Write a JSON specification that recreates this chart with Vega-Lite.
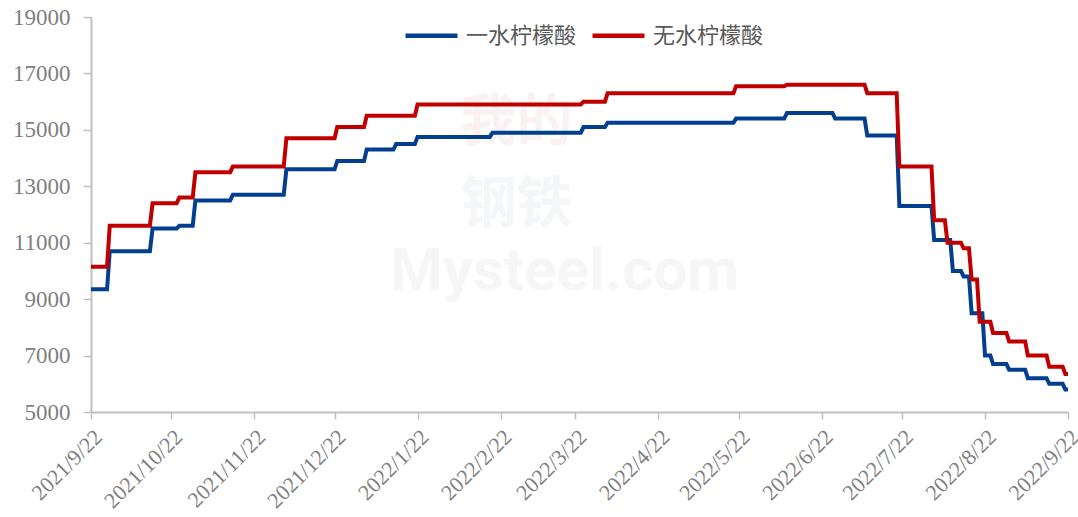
{
  "$schema": "https://vega.github.io/schema/vega-lite/v6.json",
  "width": 977,
  "height": 395,
  "autosize": {"type": "none"},
  "padding": {"left": 91, "top": 17, "right": 10, "bottom": 105},
  "background": "white",
  "config": {"view": {"stroke": null}},
  "datasets": {
    "prices": [
      {"s": "一水柠檬酸", "d": "2021-09-22", "v": 9350},
      {"s": "一水柠檬酸", "d": "2021-09-28", "v": 9350},
      {"s": "一水柠檬酸", "d": "2021-09-29", "v": 10700},
      {"s": "一水柠檬酸", "d": "2021-10-14", "v": 10700},
      {"s": "一水柠檬酸", "d": "2021-10-15", "v": 11500},
      {"s": "一水柠檬酸", "d": "2021-10-24", "v": 11500},
      {"s": "一水柠檬酸", "d": "2021-10-25", "v": 11600},
      {"s": "一水柠檬酸", "d": "2021-10-30", "v": 11600},
      {"s": "一水柠檬酸", "d": "2021-10-31", "v": 12500},
      {"s": "一水柠檬酸", "d": "2021-11-13", "v": 12500},
      {"s": "一水柠檬酸", "d": "2021-11-14", "v": 12700},
      {"s": "一水柠檬酸", "d": "2021-12-03", "v": 12700},
      {"s": "一水柠檬酸", "d": "2021-12-04", "v": 13600},
      {"s": "一水柠檬酸", "d": "2021-12-22", "v": 13600},
      {"s": "一水柠檬酸", "d": "2021-12-23", "v": 13900},
      {"s": "一水柠檬酸", "d": "2022-01-02", "v": 13900},
      {"s": "一水柠檬酸", "d": "2022-01-03", "v": 14300},
      {"s": "一水柠檬酸", "d": "2022-01-13", "v": 14300},
      {"s": "一水柠檬酸", "d": "2022-01-14", "v": 14500},
      {"s": "一水柠檬酸", "d": "2022-01-21", "v": 14500},
      {"s": "一水柠檬酸", "d": "2022-01-22", "v": 14750},
      {"s": "一水柠檬酸", "d": "2022-02-18", "v": 14750},
      {"s": "一水柠檬酸", "d": "2022-02-19", "v": 14900},
      {"s": "一水柠檬酸", "d": "2022-03-24", "v": 14900},
      {"s": "一水柠檬酸", "d": "2022-03-25", "v": 15100},
      {"s": "一水柠檬酸", "d": "2022-04-02", "v": 15100},
      {"s": "一水柠檬酸", "d": "2022-04-03", "v": 15250},
      {"s": "一水柠檬酸", "d": "2022-05-20", "v": 15250},
      {"s": "一水柠檬酸", "d": "2022-05-21", "v": 15400},
      {"s": "一水柠檬酸", "d": "2022-06-08", "v": 15400},
      {"s": "一水柠檬酸", "d": "2022-06-09", "v": 15600},
      {"s": "一水柠檬酸", "d": "2022-06-26", "v": 15600},
      {"s": "一水柠檬酸", "d": "2022-06-27", "v": 15400},
      {"s": "一水柠檬酸", "d": "2022-07-08", "v": 15400},
      {"s": "一水柠檬酸", "d": "2022-07-09", "v": 14800},
      {"s": "一水柠檬酸", "d": "2022-07-20", "v": 14800},
      {"s": "一水柠檬酸", "d": "2022-07-21", "v": 12300},
      {"s": "一水柠檬酸", "d": "2022-08-02", "v": 12300},
      {"s": "一水柠檬酸", "d": "2022-08-03", "v": 11100},
      {"s": "一水柠檬酸", "d": "2022-08-09", "v": 11100},
      {"s": "一水柠檬酸", "d": "2022-08-10", "v": 10000},
      {"s": "一水柠檬酸", "d": "2022-08-13", "v": 10000},
      {"s": "一水柠檬酸", "d": "2022-08-14", "v": 9800},
      {"s": "一水柠檬酸", "d": "2022-08-16", "v": 9800},
      {"s": "一水柠檬酸", "d": "2022-08-17", "v": 8500},
      {"s": "一水柠檬酸", "d": "2022-08-21", "v": 8500},
      {"s": "一水柠檬酸", "d": "2022-08-22", "v": 7000},
      {"s": "一水柠檬酸", "d": "2022-08-24", "v": 7000},
      {"s": "一水柠檬酸", "d": "2022-08-25", "v": 6700},
      {"s": "一水柠檬酸", "d": "2022-08-30", "v": 6700},
      {"s": "一水柠檬酸", "d": "2022-08-31", "v": 6500},
      {"s": "一水柠檬酸", "d": "2022-09-06", "v": 6500},
      {"s": "一水柠檬酸", "d": "2022-09-07", "v": 6200},
      {"s": "一水柠檬酸", "d": "2022-09-14", "v": 6200},
      {"s": "一水柠檬酸", "d": "2022-09-15", "v": 6000},
      {"s": "一水柠檬酸", "d": "2022-09-20", "v": 6000},
      {"s": "一水柠檬酸", "d": "2022-09-21", "v": 5800},
      {"s": "一水柠檬酸", "d": "2022-09-22", "v": 5800},
      {"s": "无水柠檬酸", "d": "2021-09-22", "v": 10150},
      {"s": "无水柠檬酸", "d": "2021-09-28", "v": 10150},
      {"s": "无水柠檬酸", "d": "2021-09-29", "v": 11600},
      {"s": "无水柠檬酸", "d": "2021-10-14", "v": 11600},
      {"s": "无水柠檬酸", "d": "2021-10-15", "v": 12400},
      {"s": "无水柠檬酸", "d": "2021-10-24", "v": 12400},
      {"s": "无水柠檬酸", "d": "2021-10-25", "v": 12600},
      {"s": "无水柠檬酸", "d": "2021-10-30", "v": 12600},
      {"s": "无水柠檬酸", "d": "2021-10-31", "v": 13500},
      {"s": "无水柠檬酸", "d": "2021-11-13", "v": 13500},
      {"s": "无水柠檬酸", "d": "2021-11-14", "v": 13700},
      {"s": "无水柠檬酸", "d": "2021-12-03", "v": 13700},
      {"s": "无水柠檬酸", "d": "2021-12-04", "v": 14700},
      {"s": "无水柠檬酸", "d": "2021-12-22", "v": 14700},
      {"s": "无水柠檬酸", "d": "2021-12-23", "v": 15100},
      {"s": "无水柠檬酸", "d": "2022-01-02", "v": 15100},
      {"s": "无水柠檬酸", "d": "2022-01-03", "v": 15500},
      {"s": "无水柠檬酸", "d": "2022-01-21", "v": 15500},
      {"s": "无水柠檬酸", "d": "2022-01-22", "v": 15900},
      {"s": "无水柠檬酸", "d": "2022-03-24", "v": 15900},
      {"s": "无水柠檬酸", "d": "2022-03-25", "v": 16000},
      {"s": "无水柠檬酸", "d": "2022-04-02", "v": 16000},
      {"s": "无水柠檬酸", "d": "2022-04-03", "v": 16300},
      {"s": "无水柠檬酸", "d": "2022-05-20", "v": 16300},
      {"s": "无水柠檬酸", "d": "2022-05-21", "v": 16550},
      {"s": "无水柠檬酸", "d": "2022-06-08", "v": 16550},
      {"s": "无水柠檬酸", "d": "2022-06-09", "v": 16600},
      {"s": "无水柠檬酸", "d": "2022-07-08", "v": 16600},
      {"s": "无水柠檬酸", "d": "2022-07-09", "v": 16300},
      {"s": "无水柠檬酸", "d": "2022-07-20", "v": 16300},
      {"s": "无水柠檬酸", "d": "2022-07-21", "v": 13700},
      {"s": "无水柠檬酸", "d": "2022-08-02", "v": 13700},
      {"s": "无水柠檬酸", "d": "2022-08-03", "v": 11800},
      {"s": "无水柠檬酸", "d": "2022-08-07", "v": 11800},
      {"s": "无水柠檬酸", "d": "2022-08-08", "v": 11000},
      {"s": "无水柠檬酸", "d": "2022-08-13", "v": 11000},
      {"s": "无水柠檬酸", "d": "2022-08-14", "v": 10800},
      {"s": "无水柠檬酸", "d": "2022-08-16", "v": 10800},
      {"s": "无水柠檬酸", "d": "2022-08-17", "v": 9700},
      {"s": "无水柠檬酸", "d": "2022-08-19", "v": 9700},
      {"s": "无水柠檬酸", "d": "2022-08-20", "v": 8200},
      {"s": "无水柠檬酸", "d": "2022-08-24", "v": 8200},
      {"s": "无水柠檬酸", "d": "2022-08-25", "v": 7800},
      {"s": "无水柠檬酸", "d": "2022-08-30", "v": 7800},
      {"s": "无水柠檬酸", "d": "2022-08-31", "v": 7500},
      {"s": "无水柠檬酸", "d": "2022-09-06", "v": 7500},
      {"s": "无水柠檬酸", "d": "2022-09-07", "v": 7000},
      {"s": "无水柠檬酸", "d": "2022-09-14", "v": 7000},
      {"s": "无水柠檬酸", "d": "2022-09-15", "v": 6600},
      {"s": "无水柠檬酸", "d": "2022-09-20", "v": 6600},
      {"s": "无水柠檬酸", "d": "2022-09-21", "v": 6350},
      {"s": "无水柠檬酸", "d": "2022-09-22", "v": 6350}
    ],
    "wm1": [{"t": "Mysteel.com", "d": "2022-03-18", "v": 9950}],
    "wm2": [{"t": "我的", "d": "2022-02-28", "v": 15250}],
    "wm3": [{"t": "钢铁", "d": "2022-02-28", "v": 12350}]
  },
  "layer": [
    {
      "data": {"name": "wm1"},
      "mark": {"type": "text", "font": "Roboto", "fontWeight": "bold", "fontSize": 60, "color": "#f6f6f6", "align": "center", "baseline": "middle"},
      "encoding": {
        "x": {"field": "d", "type": "temporal"},
        "y": {"field": "v", "type": "quantitative"},
        "text": {"field": "t"}
      }
    },
    {
      "data": {"name": "wm2"},
      "mark": {"type": "text", "font": "Noto Sans CJK SC", "fontWeight": "bold", "fontSize": 56, "color": "#faf1f1", "align": "center", "baseline": "middle"},
      "encoding": {
        "x": {"field": "d", "type": "temporal"},
        "y": {"field": "v", "type": "quantitative"},
        "text": {"field": "t"}
      }
    },
    {
      "data": {"name": "wm3"},
      "mark": {"type": "text", "font": "Noto Sans CJK SC", "fontWeight": "bold", "fontSize": 56, "color": "#f5f6f8", "align": "center", "baseline": "middle"},
      "encoding": {
        "x": {"field": "d", "type": "temporal"},
        "y": {"field": "v", "type": "quantitative"},
        "text": {"field": "t"}
      }
    },
    {
      "data": {"name": "prices"},
      "mark": {"type": "line", "strokeWidth": 4, "interpolate": "linear"},
      "encoding": {
        "x": {
          "field": "d",
          "type": "temporal",
          "scale": {"type": "utc", "domain": [{"year": 2021, "month": 9, "date": 22, "utc": true}, {"year": 2022, "month": 9, "date": 22, "utc": true}]},
          "axis": {
            "title": null,
            "grid": false,
            "labelExpr": "utcyear(datum.value) + '/' + (utcmonth(datum.value) + 1) + '/' + utcdate(datum.value)",
            "values": [
              {"year": 2021, "month": 9, "date": 22, "utc": true},
              {"year": 2021, "month": 10, "date": 22, "utc": true},
              {"year": 2021, "month": 11, "date": 22, "utc": true},
              {"year": 2021, "month": 12, "date": 22, "utc": true},
              {"year": 2022, "month": 1, "date": 22, "utc": true},
              {"year": 2022, "month": 2, "date": 22, "utc": true},
              {"year": 2022, "month": 3, "date": 22, "utc": true},
              {"year": 2022, "month": 4, "date": 22, "utc": true},
              {"year": 2022, "month": 5, "date": 22, "utc": true},
              {"year": 2022, "month": 6, "date": 22, "utc": true},
              {"year": 2022, "month": 7, "date": 22, "utc": true},
              {"year": 2022, "month": 8, "date": 22, "utc": true},
              {"year": 2022, "month": 9, "date": 22, "utc": true}
            ],
            "labelAngle": -45,
            "labelFont": "Liberation Serif",
            "labelFontSize": 22,
            "labelColor": "#7f7f7f",
            "labelPadding": 7,
            "labelOverlap": false,
            "labelBound": false,
            "labelFlush": false,
            "domainColor": "#c0c0c0",
            "domainWidth": 2,
            "tickColor": "#c0c0c0",
            "tickWidth": 1.5,
            "tickSize": 7
          }
        },
        "y": {
          "field": "v",
          "type": "quantitative",
          "scale": {"domain": [5000, 19000], "nice": false, "zero": false},
          "axis": {
            "title": null,
            "grid": false,
            "values": [5000, 7000, 9000, 11000, 13000, 15000, 17000, 19000],
            "format": "d",
            "labelFont": "Liberation Serif",
            "labelFontSize": 23,
            "labelColor": "#7f7f7f",
            "labelPadding": 13,
            "labelFlush": false,
            "domainColor": "#c0c0c0",
            "domainWidth": 2,
            "tickColor": "#c0c0c0",
            "tickWidth": 1.5,
            "tickSize": 8
          }
        },
        "color": {
          "field": "s",
          "type": "nominal",
          "scale": {"domain": ["一水柠檬酸", "无水柠檬酸"], "range": ["#033f8f", "#c00000"]},
          "legend": {
            "title": null,
            "orient": "none",
            "direction": "horizontal",
            "legendX": 312,
            "legendY": -10,
            "padding": 0,
            "symbolType": "stroke",
            "symbolStrokeWidth": 4.5,
            "symbolSize": 2700,
            "labelFont": "Noto Sans CJK SC",
            "labelFontSize": 22,
            "labelColor": "#595959",
            "labelOffset": 6,
            "columnPadding": 6
          }
        }
      }
    }
  ]
}
